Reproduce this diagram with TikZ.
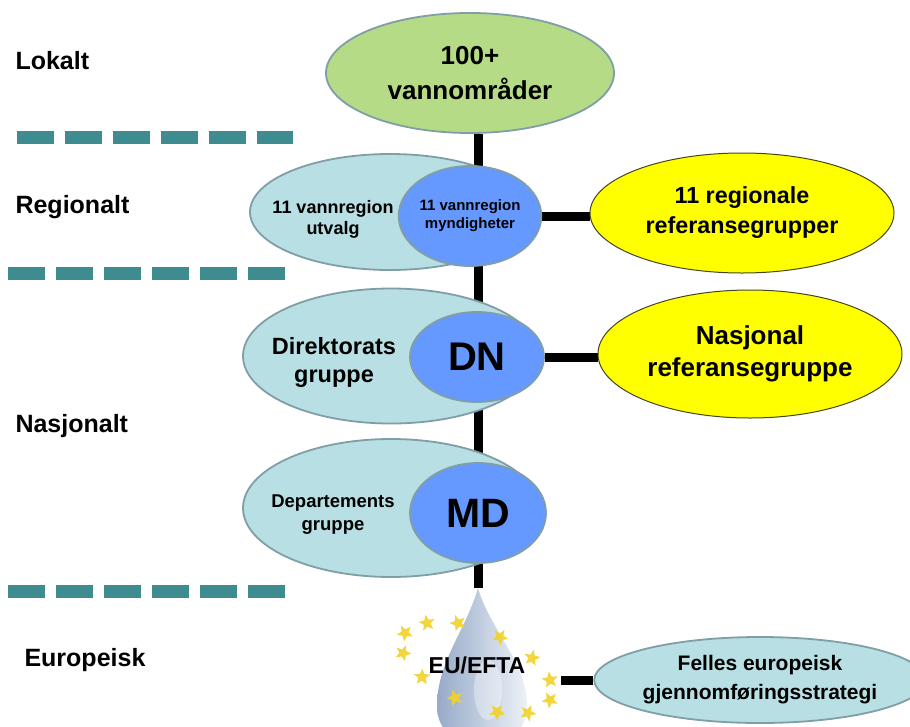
\documentclass[tikz,border=0pt]{standalone}
\usepackage{fontspec}
\setmainfont{Liberation Sans}
\usetikzlibrary{shapes.geometric}
\pgfdeclarelayer{back}
\pgfdeclarelayer{bg}
\pgfsetlayers{back,bg,main}
\definecolor{greenfill}{RGB}{181,219,134}
\definecolor{tealfill}{RGB}{184,223,227}
\definecolor{bluefill}{RGB}{102,153,255}
\definecolor{edgegray}{RGB}{128,158,166}
\definecolor{dashcol}{RGB}{62,140,143}
\definecolor{yelfill}{RGB}{255,255,0}
\definecolor{yeledge}{RGB}{70,70,30}
\definecolor{starcol}{RGB}{242,210,40}
\definecolor{dropdark}{RGB}{150,170,200}
\definecolor{droplight}{RGB}{238,242,248}
\begin{document}
\begin{tikzpicture}[x=1pt,y=-1pt,
  ell/.style={ellipse, draw=edgegray, line width=1.8pt, inner sep=0pt, align=center},
  yel/.style={ellipse, draw=yeledge, line width=1pt, fill=yelfill, inner sep=0pt, align=center},
  fnt/.style 2 args={font=\fontsize{#1}{#2}\selectfont\bfseries},
  lvl/.style={anchor=base west, fnt={25}{30}},
  conn/.style={line width=9pt, draw=black},
  dashrow/.style={draw=dashcol, line width=13pt, dash pattern=on 37pt off 11pt},
  eustar/.style={star, star points=5, star point ratio=2.3, fill=starcol, inner sep=0pt, minimum size=17pt, opacity=0.9}
]
\begin{pgfonlayer}{back}
\fill[white] (0,0) rectangle (910,726);
\end{pgfonlayer}
\useasboundingbox (0,0) rectangle (910,726);

% level labels
\node[lvl] (lokalt) at (12,69) {Lokalt};
\node[lvl] (regionalt) at (12,213) {Regionalt};
\node[lvl] (nasjonalt) at (12,432) {Nasjonalt};
\node[lvl] (europeisk) at (21,666) {Europeisk};

% dashed separators
\draw[dashrow] (17,137) -- (293,137);
\draw[dashrow] (8,273) -- (286,273);
\draw[dashrow] (8,591) -- (286,591);

% local
\node[ell, fill=greenfill, minimum width=288pt, minimum height=120pt, fnt={26}{35}] (lok) at (470,73) {100+\\vannområder};

% regional
\node[ell, fill=tealfill, minimum width=280pt, minimum height=116pt] (rutv) at (390,212) {};
\node[fnt={18}{21}, align=center] (rutvt) at (333,219) {11 vannregion\\utvalg};
\node[ell, fill=bluefill, minimum width=136pt, minimum height=100pt, fnt={15}{18}] (rmyn) at (470,216) {11 vannregion\\myndigheter};
\node[yel, minimum width=304pt, minimum height=120pt, fnt={23.3}{30}] (rref) at (742,213) {11 regionale\\referansegrupper};

% national: DN
\node[ell, fill=tealfill, minimum width=296pt, minimum height=135pt] (dgr) at (391,356) {};
\node[fnt={23.5}{28}, align=center] (dgrt) at (334,362) {Direktorats\\gruppe};
\node[ell, fill=bluefill, minimum width=134pt, minimum height=90pt, fnt={40}{44}] (dn) at (477,357) {DN};
\node[yel, minimum width=304pt, minimum height=128pt, fnt={26}{32}] (nref) at (750,354) {Nasjonal\\referansegruppe};

% national: MD
\node[ell, fill=tealfill, minimum width=296pt, minimum height=138pt] (dep) at (391,508) {};
\node[fnt={18.5}{23}, align=center] (dept) at (333,515) {Departements\\gruppe};
\node[ell, fill=bluefill, minimum width=136pt, minimum height=100pt, fnt={41}{44}] (md) at (478,513) {MD};

% european
\coordinate (droptip) at (478,588);
\shade[left color=dropdark, right color=droplight]
  (droptip) .. controls (490,630) and (527,662) .. (527,706)
  .. controls (527,760) and (437,760) .. (437,706)
  .. controls (437,662) and (466,630) .. (droptip);
\fill[white, opacity=0.35] (488,690) ellipse (14pt and 30pt);
\foreach \i/\p in {1/{(427,623)},2/{(458,623)},3/{(405,633)},4/{(500,637)},5/{(403,653)},6/{(532,658)},7/{(422,677)},8/{(550,680)},9/{(455,698)},10/{(550,700)},11/{(497,712)},12/{(528,713)}}
  \node[eustar, rotate=10*\i] (star\i) at \p {};
\node[fnt={23}{26}] (eu) at (477,665) {EU/EFTA};
\coordinate (euright) at (561,680);
\node[ell, fill=tealfill, minimum width=294pt, minimum height=86pt, fnt={21}{29}] (felles) at (760,680) {Felles europeisk\\gjennomføringsstrategi};

% connectors behind the shapes
\begin{pgfonlayer}{bg}
  \draw[conn] (lok.south -| droptip) -- (droptip);
  \draw[conn] (rmyn.east) -- (rmyn.east -| rref.west);
  \draw[conn] (dn.east) -- (dn.east -| nref.west);
  \draw[conn] (euright) -- (felles.west);
\end{pgfonlayer}
\end{tikzpicture}
\end{document}
